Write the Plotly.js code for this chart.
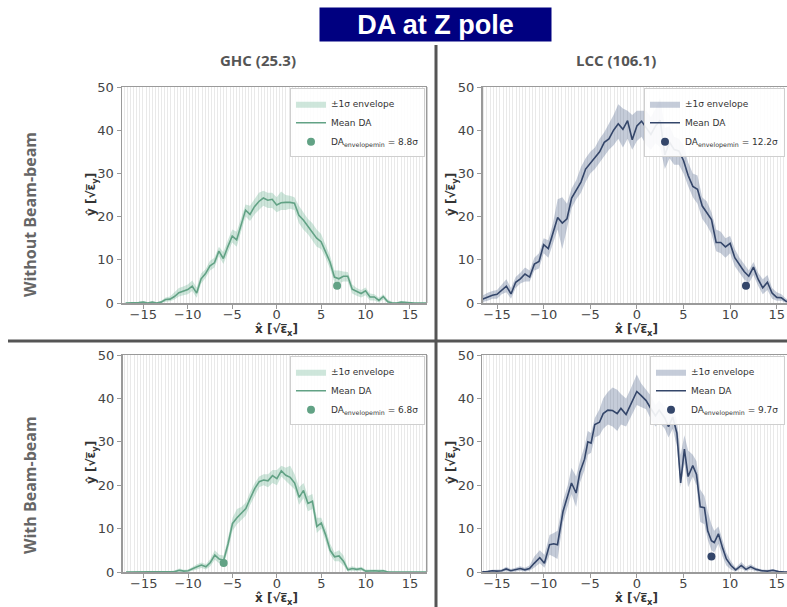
<!DOCTYPE html>
<html>
<head>
<meta charset="utf-8">
<script src="https://cdn.plot.ly/plotly-3.0.1.min.js"></script>
<style>html,body{margin:0;padding:0;background:#fff;overflow:hidden}#chart{width:787px;height:607px}</style>
</head>
<body>
<div id="chart"></div>
<script>
// ---------------- DATA ----------------
const xGrid = [-17,-16.5,-16,-15.5,-15,-14.5,-14,-13.5,-13,-12.5,
  -12,-11.5,-11,-10.5,-10,-9.5,-9,-8.5,-8,-7.5,
  -7,-6.5,-6,-5.5,-5,-4.5,-4,-3.5,-3,-2.5,
  -2,-1.5,-1,-0.5,0,0.5,1,1.5,2,2.5,
  3,3.5,4,4.5,5,5.5,6,6.5,7,7.5,
  8,8.5,9,9.5,10,10.5,11,11.5,12,12.5,
  13,13.5,14,14.5,15,15.5,16,16.5,17];

// GHC (25.3) without beam-beam
const ghcNoBBMean = [0,0,0,0.1,0.2,0,0.2,0,0.2,0.8,
  0.9,1.5,2.4,2.7,3.1,3.9,2.3,5.6,6.8,8.6,
  9.3,12.0,10.3,13.0,15.5,14.6,18.0,21.5,20.5,22.3,
  23.5,24.3,23.8,24.0,22.7,23.2,23.3,23.3,23.1,20.3,
  19.2,17.8,16.2,15.0,14.2,12.0,9.5,6.0,5.6,6.2,
  6.2,3.2,2.6,2.2,2.8,1.4,1.4,0.6,1.5,0.3,
  0,0,0.2,0.1,0,0,0,0,0];
const ghcNoBBLo = [0,0,0,0,0,0,0,0,0,0.3,
  0.4,0.8,1.5,1.8,2.0,2.8,1.2,4.5,5.8,7.5,
  8.2,10.8,9.0,11.5,14.0,13.0,16.5,20.0,19.0,20.5,
  21.5,22.5,22.0,22.0,21.0,21.5,21.5,21.8,21.5,18.5,
  17.0,16.0,14.5,13.0,12.5,10.5,8.0,4.8,4.5,5.0,
  5.0,2.2,1.7,1.3,1.8,0.6,0.6,0.1,0.8,0,
  0,0,0,0,0,0,0,0,0];
const ghcNoBBHi = [0,0,0.2,0.3,0.4,0.2,0.4,0.2,0.5,1.3,
  1.5,2.5,3.5,3.8,4.3,5.2,3.6,6.8,7.8,9.8,
  10.5,13.0,11.8,14.5,17.0,16.5,19.5,22.8,22.5,24.0,
  25.5,26.0,25.5,25.5,24.5,25.8,25.0,24.8,24.5,22.5,
  21.0,19.5,18.5,17.0,16.0,13.5,11.0,7.5,7.5,7.3,
  7.2,4.3,3.5,3.0,3.6,2.2,2.0,1.2,2.0,0.8,
  0.3,0.2,0.4,0.3,0.1,0,0,0,0];
const ghcNoBBMinX = [6.8], ghcNoBBMinY = [4.0];

// LCC (106.1) without beam-beam
const lccNoBBMean = [0.5,0.9,1.4,1.8,2.0,3.0,3.9,2.1,4.8,5.6,
  6.7,6.0,9.0,9.6,13.5,12.6,16.3,19.8,18.5,19.5,
  24.3,26.0,28.0,31.0,32.3,33.5,35.0,37.2,38.0,40.0,
  41.5,40.2,42.2,37.8,41.0,42.1,40.5,39.0,41.0,42.3,
  34.3,37.2,35.5,35.2,33.0,29.5,27.0,26.3,22.5,21.0,
  19.3,14.0,14.0,13.0,13.8,10.5,8.8,7.3,6.2,8.3,
  5.5,3.5,4.8,2.3,1.3,1.2,0.4,0.2,0];
const lccNoBBLo = [0,0.2,0.5,1.0,1.0,2.0,2.5,1.0,3.5,4.5,
  5.0,5.0,7.5,8.0,11.5,10.5,13.5,17.0,12.5,17.0,
  22.0,24.0,25.5,28.0,30.0,31.0,32.5,34.0,35.5,36.5,
  38.0,36.0,38.0,35.5,37.5,38.5,36.5,35.5,37.0,36.0,
  31.0,33.5,32.0,32.0,30.0,27.0,24.5,23.0,19.5,18.0,
  16.0,12.0,11.5,10.5,11.5,8.5,7.0,5.5,4.5,6.5,
  4.0,2.0,3.0,1.0,0.5,0.5,0,0,0];
const lccNoBBHi = [1.5,1.8,2.4,2.8,3.0,4.2,5.5,3.5,6.0,7.0,
  8.2,7.5,10.5,11.5,15.0,14.5,18.5,24.0,24.5,23.0,
  26.5,28.5,31.5,33.5,35.0,36.0,38.0,39.5,41.5,43.5,
  46.0,45.0,44.5,43.5,44.5,44.5,44.5,43.0,45.0,47.5,
  40.5,41.0,38.5,38.0,36.5,32.5,30.0,29.5,24.5,23.5,
  21.0,17.0,16.5,15.0,15.5,12.5,10.5,9.0,7.5,9.5,
  7.0,5.5,6.5,3.5,2.5,2.0,1.0,0.5,0.3];
const lccNoBBMinX = [11.7], lccNoBBMinY = [4.0];

// GHC (25.3) with beam-beam
const ghcBBMean = [0,0,0,0,0,0,0,0,0,0,
  0,0.1,0.4,0.2,0.3,0.8,1.2,1.6,1.2,2.2,
  3.9,3.0,2.7,6.5,11.2,12.5,13.6,14.6,17.0,19.2,
  20.8,21.2,21.0,22.2,21.5,23.3,22.3,21.8,20.5,17.2,
  18.8,15.8,16.3,10.5,11.3,8.5,5.0,3.5,3.7,2.5,
  0.5,0.8,0.6,0.8,0.2,0.3,0.3,0.2,0.3,0,
  0,0,0,0,0,0,0,0,0];
const ghcBBLo = [0,0,0,0,0,0,0,0,0,0,
  0,0,0,0,0,0.3,0.6,0.9,0.6,1.3,
  2.8,2.0,1.8,5.0,9.5,11.0,12.0,13.0,15.5,17.5,
  19.5,20.0,19.5,20.5,20.0,22.0,21.0,20.0,19.0,15.5,
  17.0,14.0,14.5,9.0,10.0,7.0,4.0,2.5,2.5,1.5,
  0.1,0.3,0.2,0.3,0,0,0,0,0,0,
  0,0,0,0,0,0,0,0,0];
const ghcBBHi = [0,0,0,0,0,0,0,0,0,0.1,
  0.2,0.4,0.8,0.5,0.6,1.3,1.8,2.2,1.8,3.0,
  5.0,4.0,3.8,8.0,12.5,14.5,15.0,16.0,18.5,20.5,
  22.0,22.5,22.5,23.5,23.5,24.5,24.0,24.5,22.5,19.5,
  20.5,17.5,18.0,12.5,12.5,10.0,6.5,4.5,5.0,3.8,
  1.0,1.3,1.0,1.2,0.6,0.6,0.6,0.5,0.6,0.2,
  0,0,0,0,0,0,0,0,0];
const ghcBBMinX = [-6.0], ghcBBMinY = [2.1];

// LCC (106.1) with beam-beam
const lccBBX = [-17,-16.5,-16,-15.5,-15,-14.5,-14,-13.5,-13,-12.5,
  -12,-11.5,-11,-10.4,-9.9,-9.35,-8.9,-8.5,-7.9,-7.4,
  -7,-6.5,-6.1,-5.6,-5.25,-4.9,-4.5,-4,-3.6,-3.1,
  -2.6,-2.1,-1.7,-1.15,-0.6,0,0.45,1,1.55,2,
  2.4,3,3.4,3.85,4.3,4.7,5.1,5.5,6,6.4,
  6.8,7.25,7.6,8,8.3,8.75,9.2,9.6,10.1,10.6,
  11.2,11.7,12.2,12.8,13.4,14,14.6,15.2,15.8,16.4,17];
const lccBBMean = [0,0,0.1,0.3,0.2,0.3,0.7,0.3,0.5,0.8,
  0.5,0.8,2.0,3.3,2.0,6.3,6.5,6.3,14.0,17.5,
  20.5,18.2,23.0,26.0,30.0,29.7,34.0,34.5,36.5,37.3,
  37.2,36.5,37.7,36.3,39.0,41.6,40.7,39.5,37.5,36.0,
  37.3,35.5,33.5,35.7,32.0,20.5,28.3,22.0,24.5,22.5,
  15.0,14.8,9.5,7.2,6.8,8.8,5.5,3.0,1.5,0.5,
  1.5,0.6,1.2,0.6,0.3,0.2,0.4,0.1,0,0,0];
const lccBBLo = [0,0,0,0,0,0,0.2,0,0.1,0.3,
  0.1,0.3,1.0,2.0,1.0,4.0,3.5,3.0,11.5,15.0,
  18.0,15.0,20.5,23.5,27.0,27.5,31.0,31.5,33.0,34.0,
  33.5,32.5,34.0,33.5,36.0,38.5,38.0,37.5,35.0,33.5,
  34.5,33.0,31.0,33.0,29.0,19.5,25.0,19.5,22.0,20.0,
  11.5,11.0,7.5,5.0,4.5,6.5,3.5,1.5,0.5,0.1,
  0.8,0.2,0.6,0.2,0,0,0.1,0,0,0,0];
const lccBBHi = [0.2,0.2,0.3,0.5,0.5,0.6,1.2,0.7,1.0,1.3,
  1.0,1.5,3.5,5.0,4.0,8.5,9.0,9.5,16.5,20.0,
  24.0,22.0,25.5,29.0,32.5,32.0,35.5,37.5,40.0,41.5,
  42.5,42.0,41.0,40.0,42.5,45.5,43.5,42.0,40.5,38.5,
  39.5,38.0,36.5,37.5,35.0,27.0,31.5,28.0,27.0,25.5,
  19.0,17.5,14.0,11.0,9.5,10.5,7.5,4.5,2.5,1.0,
  2.3,1.2,1.8,1.0,0.6,0.5,0.7,0.3,0.1,0,0];
const lccBBMinX = [8.0], lccBBMinY = [3.6];

const xTickVals = [-15,-10,-5,0,5,10,15];
const yTickVals = [0,10,20,30,40,50];
const columnTitles = ['GHC (25.3)', 'LCC (106.1)'];
const rowTitles = ['Without Beam-beam', 'With Beam-beam'];
const minLabels = ['8.8σ', '12.2σ', '6.8σ', '9.7σ'];

// ---------------- STYLE / LAYOUT ----------------
const W = 787, H = 607;
const px = v => v / W;
const py = v => 1 - v / H;

const GREEN = '#62a285', GREEN_FILL = 'rgba(120,185,155,0.36)';
const NAVY = '#34466a', NAVY_FILL = 'rgba(95,115,150,0.36)';
const FONT = 'DejaVu Sans, sans-serif';

const panels = [
  {x: xGrid, m: ghcNoBBMean, lo: ghcNoBBLo, hi: ghcNoBBHi, mx: ghcNoBBMinX, my: ghcNoBBMinY, c: GREEN, f: GREEN_FILL, lbl: minLabels[0],
   xd: [px(122), px(426.7)], yd: [py(303), py(87)], xr: [-17.4, 16.88], right: false, xt: 276.5, yb: 303},
  {x: xGrid, m: lccNoBBMean, lo: lccNoBBLo, hi: lccNoBBHi, mx: lccNoBBMinX, my: lccNoBBMinY, c: NAVY, f: NAVY_FILL, lbl: minLabels[1],
   xd: [px(482.5), 1], yd: [py(303), py(87)], xr: [-16.56, 16.1], right: true, xt: 636, yb: 303},
  {x: xGrid, m: ghcBBMean, lo: ghcBBLo, hi: ghcBBHi, mx: ghcBBMinX, my: ghcBBMinY, c: GREEN, f: GREEN_FILL, lbl: minLabels[2],
   xd: [px(122.5), px(426.7)], yd: [py(572), py(355)], xr: [-17.4, 16.88], right: false, xt: 276.5, yb: 572},
  {x: lccBBX, m: lccBBMean, lo: lccBBLo, hi: lccBBHi, mx: lccBBMinX, my: lccBBMinY, c: NAVY, f: NAVY_FILL, lbl: minLabels[3],
   xd: [px(482.3), 1], yd: [py(572), py(355)], xr: [-16.56, 16.1], right: true, xt: 636, yb: 572},
];

const traces = [];
const layout = {
  width: W, height: H,
  margin: {l: 0, r: 0, t: 0, b: 0},
  paper_bgcolor: '#ffffff', plot_bgcolor: '#ffffff',
  showlegend: true,
  font: {family: FONT, color: '#444'},
  shapes: [], annotations: []
};

function ann(x, y, text, font, extra) {
  return Object.assign({xref: 'paper', yref: 'paper', x: px(x), y: py(y), text: text, showarrow: false,
    xanchor: 'center', yanchor: 'middle', font: font}, extra || {});
}

panels.forEach((p, i) => {
  const n = i + 1;
  const xa = 'x' + (n === 1 ? '' : n), ya = 'y' + (n === 1 ? '' : n);
  const lg = 'legend' + (n === 1 ? '' : n);
  traces.push({x: p.x, y: p.lo, xaxis: xa, yaxis: ya, mode: 'lines', line: {width: 0, color: p.f},
    showlegend: false, hoverinfo: 'skip', legend: lg});
  traces.push({x: p.x, y: p.hi, xaxis: xa, yaxis: ya, mode: 'lines', line: {width: 0, color: p.f},
    fill: 'tonexty', fillcolor: p.f, name: '±1σ envelope', legend: lg});
  traces.push({x: p.x, y: p.m, xaxis: xa, yaxis: ya, mode: 'lines', line: {width: 1.6, color: p.c},
    name: 'Mean DA', legend: lg});
  traces.push({x: p.mx, y: p.my, xaxis: xa, yaxis: ya, mode: 'markers', marker: {size: 8, color: p.c},
    name: 'DA<sub>envelopemin</sub> = ' + p.lbl, legend: lg});

  const xKey = 'xaxis' + (n === 1 ? '' : n), yKey = 'yaxis' + (n === 1 ? '' : n);
  layout[xKey] = {
    domain: p.xd, anchor: ya, range: p.xr, tickvals: xTickVals,
    showgrid: false, zeroline: false,
    minor: {dtick: 0.35, tick0: 0, showgrid: true, gridcolor: '#e9e9e9', gridwidth: 1, ticks: ''},
    showline: true, linecolor: '#9a9a9a', linewidth: 1.5, mirror: true,
    ticks: 'outside', ticklen: 4, tickcolor: '#9a9a9a', ticklabelstandoff: -5,
    tickfont: {family: FONT, size: 13, color: '#444'}
  };
  layout[yKey] = {
    domain: p.yd, anchor: xa, range: [0, 50], tickvals: yTickVals,
    showgrid: false, zeroline: false,
    showline: true, linecolor: '#9a9a9a', linewidth: 1.5, mirror: false,
    ticks: 'outside', ticklen: 4, tickcolor: '#9a9a9a',
    tickfont: {family: FONT, size: 13, color: '#444'}
  };
  if (!p.right) {
    layout.shapes.push({type: 'line', xref: 'paper', yref: 'paper', x0: p.xd[1], x1: p.xd[1], y0: p.yd[0], y1: p.yd[1],
      line: {color: '#9a9a9a', width: 1.5}});
  }
  const legRight = p.right ? px(785) : px(425);
  layout[lg] = {
    x: legRight, xanchor: 'right', y: p.yd[1] - 0.002, yanchor: 'top',
    bgcolor: 'rgba(255,255,255,0.9)', bordercolor: '#cfcfcf', borderwidth: 1,
    font: {family: FONT, size: 9, color: '#333'}, tracegroupgap: 0, itemwidth: 30,
    traceorder: 'normal'
  };

  // axis titles
  layout.annotations.push(ann(p.xt, p.yb + 27, '<b>x̂ [√ε̅<sub>x</sub>]</b>', {family: FONT, size: 12, color: '#333'}, {borderpad: 0}));
  layout.annotations.push(ann(p.right ? 452 : 92, (p.yb === 303 ? 195 : 463), '<b>ŷ [√ε̅<sub>y</sub>]</b>',
    {family: FONT, size: 12, color: '#333'}, {textangle: -90, borderpad: 0}));
});

// Title box
layout.annotations.push(ann(435.5, 24.5, '<b>DA at Z pole</b>', {family: 'Liberation Sans, Arial, sans-serif', size: 27, color: '#ffffff'},
  {bgcolor: '#000080', width: 229, height: 31, borderpad: 1}));
// Column titles
layout.annotations.push(ann(258, 60, '<b>' + columnTitles[0] + '</b>', {family: 'Open Sans, sans-serif', size: 15, color: '#555'}));
layout.annotations.push(ann(616, 60, '<b>' + columnTitles[1] + '</b>', {family: 'Open Sans, sans-serif', size: 15, color: '#555'}));
// Row titles
layout.annotations.push(ann(30, 215, '<b>' + rowTitles[0] + '</b>', {family: 'Open Sans, sans-serif', size: 16, color: '#666'}, {textangle: -90}));
layout.annotations.push(ann(30, 485, '<b>' + rowTitles[1] + '</b>', {family: 'Open Sans, sans-serif', size: 16, color: '#666'}, {textangle: -90}));
// Dividers
layout.shapes.push({type: 'line', xref: 'paper', yref: 'paper', x0: px(436), x1: px(436), y0: 0, y1: py(45),
  line: {color: '#555', width: 3}});
layout.shapes.push({type: 'line', xref: 'paper', yref: 'paper', x0: px(8), x1: 1, y0: py(341), y1: py(341),
  line: {color: '#555', width: 3}});

Plotly.newPlot('chart', traces, layout, {displayModeBar: false, staticPlot: true});
</script>
</body>
</html>
